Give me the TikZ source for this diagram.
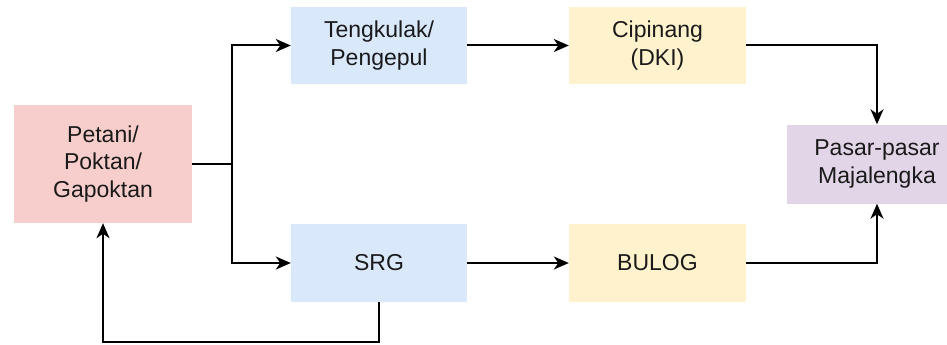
\documentclass[tikz,border=0pt]{standalone}
\usepackage{fontspec}
\setmainfont{Liberation Sans}
\usetikzlibrary{arrows.meta}
\definecolor{farmerfill}{HTML}{F8CECC}
\definecolor{traderfill}{HTML}{DAE8FC}
\definecolor{depotfill}{HTML}{FFF2CC}
\definecolor{marketfill}{HTML}{E1D5E7}
\definecolor{labeltext}{HTML}{1A1A1A}
\begin{document}
\begin{tikzpicture}[x=1pt, y=-1pt, >={Stealth[length=15pt, width=13pt, inset=4.5pt]},
    box/.style={inner sep=0pt, align=center, text=labeltext,
        font=\fontsize{23}{27.5}\selectfont},
    flow/.style={->, line width=2pt, black}]
    \useasboundingbox (0,0) rectangle (947,345);
    \clip (0,0) rectangle (947,345);

    % Producer on the left
    \node[box, fill=farmerfill, minimum width=178pt, minimum height=118pt] (petani) at (103,164) {Petani/\\Poktan/\\Gapoktan};

    % Upper channel
    \node[box, fill=traderfill, minimum width=176pt, minimum height=77pt] (tengkulak) at (379,45.5) {Tengkulak/\\Pengepul};
    \node[box, fill=depotfill, minimum width=177pt, minimum height=77pt] (cipinang) at (657.5,45.5) {Cipinang\\(DKI)};

    % Lower channel
    \node[box, fill=traderfill, minimum width=176pt, minimum height=78pt] (srg) at (379,263) {SRG};
    \node[box, fill=depotfill, minimum width=177pt, minimum height=78pt] (bulog) at (657.5,263) {BULOG};

    % Market on the right (runs past the edge)
    \node[box, fill=marketfill, minimum width=180pt, minimum height=79pt] (pasar) at (877,164) {Pasar-pasar\\Majalengka};

    % Connectors
    \coordinate (split) at (232,164);
    \coordinate (loop) at (379,342);
    \draw[flow] (petani.east) -- (split) |- (tengkulak.west);
    \draw[flow] (split) |- (srg.west);
    \draw[flow] (tengkulak) -- (cipinang);
    \draw[flow] (srg) -- (bulog);
    \draw[flow] (cipinang.east) -| (pasar.north);
    \draw[flow] (bulog.east) -| (pasar.south);
    \draw[flow] (srg.south) -- (loop) -| (petani.south);
\end{tikzpicture}
\end{document}
